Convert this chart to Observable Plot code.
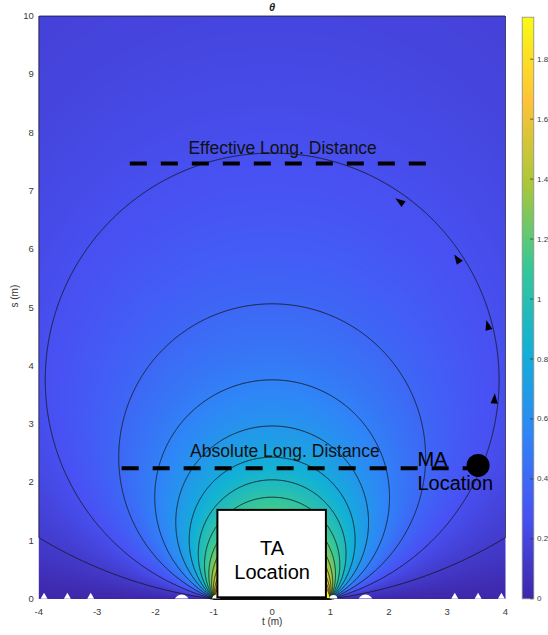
<!DOCTYPE html>
<html><head><meta charset="utf-8">
<script src="https://cdn.jsdelivr.net/npm/d3@7"></script>
<script src="https://cdn.jsdelivr.net/npm/@observablehq/plot@0.6"></script>
<style>
html,body{margin:0;padding:0;background:#fff;overflow:hidden;}
#wrap{position:relative;width:548px;height:635px;font-family:"Liberation Sans",Arial,sans-serif;}
#wrap > svg{position:absolute;top:0;}
</style></head><body><div id="wrap"></div>
<script>
// ---- data ----
const taEnds = [-1, 1];                 // TA segment end points on t (m)
const tRange = [-4, 4];
const sRange = [0, 10];
const thetaMax = 1.94;                  // colour-bar upper limit
const contourLevels = [0.13,0.26,0.39,0.52,0.65,0.78,0.91,1.04,1.17,1.30,1.43,1.56,1.69,1.82];
const xTicks = [-4,-3,-2,-1,0,1,2,3,4];
const yTicks = [0,1,2,3,4,5,6,7,8,9,10];
const cbTicks = [0,0.2,0.4,0.6,0.8,1,1.2,1.4,1.6,1.8];
const parula = ["#3e26a8","#4852f4","#2e87f7","#12b1d6","#37c897","#abc739","#fec338","#f9fb15"];

const boxT = [-0.93, 0.93];             // TA box extent
const boxS = [0.02, 1.52];
const maT = 3.53, maS = 2.29;           // MA location
const dashS  = [7.47, 2.243];           // dashed distance lines
const dashT1 = [-2.44, -2.58];
const dashT2 = [2.66, 3.45];
const labelText = ["Effective Long. Distance", "Absolute Long. Distance"];
const labelT = [0.18, 0.22];
const labelS = [7.64, 2.444];
const arrowT = [3.81, 3.70, 3.18, 2.20];
const arrowS = [3.42, 4.68, 5.82, 6.81];
const arrowDir = [4, -15, -34, -55];    // degrees clockwise from up
const gapT = [-3.91, -3.51, -3.11, 3.13, 3.53, 3.93];
const bumpT = [-1.55, 1.6];
const smallBumpT = [-0.96, 1.05];

// subtended angle of the TA segment
const theta = (t, s) => Math.atan2(s, t - taEnds[1]) - Math.atan2(s, t - taEnds[0]);

const colorOpts = {type:"linear", domain:[0, thetaMax], interpolate: d3.piecewise(d3.interpolateRgb, parula), clamp:true};
const font = "Liberation Sans, Arial, sans-serif";

// slender arrowhead symbol pointing up
const arrowHead = {
  draw(ctx, size) {
    const r = Math.sqrt(size / Math.PI);
    ctx.moveTo(0, -1.5 * r);
    ctx.lineTo(0.85 * r, 0.9 * r);
    ctx.lineTo(-0.85 * r, 0.9 * r);
    ctx.closePath();
  }
};

const main = Plot.plot({
  width:548, height:635,
  marginLeft:38.3, marginRight:43, marginTop:15.5, marginBottom:36.5,
  style:{fontFamily:font, fontSize:"9.5px", color:"#3a3a3a", background:"transparent"},
  x:{domain:tRange, ticks:xTicks, tickSize:0, tickPadding:9, label:null, tickFormat:d=>String(d)},
  y:{domain:sRange, ticks:yTicks, tickSize:0, tickPadding:5, label:null, tickFormat:d=>String(d)},
  color: colorOpts,
  marks:[
    Plot.raster({x1:tRange[0], x2:tRange[1], y1:sRange[0], y2:sRange[1], fill:theta, pixelSize:1}),
    Plot.contour({x1:tRange[0], x2:tRange[1], y1:sRange[0], y2:sRange[1], value:theta, thresholds:contourLevels,
      stroke:"#141414", fill:"none", strokeWidth:0.9, strokeOpacity:0.9, pixelSize:1}),
    Plot.dot(gapT, {x:d=>d, y:()=>0, symbol:"triangle", r:2.6, dy:-2.2, fill:"white", stroke:"none"}),
    Plot.dot(bumpT, {x:d=>d, y:()=>0, r:7.5, dy:3, fill:"white", stroke:"none", clip:true}),
    Plot.dot(smallBumpT, {x:d=>d, y:()=>0, r:4, fill:"white", stroke:"none", clip:true}),
    Plot.rect([0], {x1:()=>boxT[0], x2:()=>boxT[1], y1:()=>boxS[0], y2:()=>boxS[1], fill:"white", stroke:"black", strokeWidth:2}),
    Plot.text(["TA\nLocation"], {x:()=>0, y:()=>0.346, lineAnchor:"bottom", lineHeight:1.2, fontSize:20, fill:"black", fontFamily:font}),
    Plot.link(dashS, {x1:(d,i)=>dashT1[i], x2:(d,i)=>dashT2[i], y1:d=>d, y2:d=>d, stroke:"black", strokeWidth:4, strokeDasharray:"17,14"}),
    Plot.text(labelText, {x:(d,i)=>labelT[i], y:(d,i)=>labelS[i], lineAnchor:"bottom", fontSize:17.5, fill:"#111", fontFamily:font}),
    Plot.dot([maT], {x:d=>d, y:()=>maS, r:11.5, fill:"black", stroke:"none"}),
    Plot.text(["MA\nLocation"], {x:()=>2.49, y:()=>1.873, textAnchor:"start", lineAnchor:"bottom", lineHeight:1.215, fontSize:20, fill:"black", fontFamily:font}),
    Plot.dot(arrowT, {x:d=>d, y:(d,i)=>arrowS[i], symbol:arrowHead, rotate:(d,i)=>arrowDir[i], r:4.2, fill:"black", stroke:"none"}),
    Plot.text(["θ"], {frameAnchor:"top", dy:-5, lineAnchor:"bottom", fontSize:11, fontWeight:"bold", fontStyle:"italic", fill:"#222", fontFamily:font}),
    Plot.text(["s (m)"], {frameAnchor:"left", dx:-24, rotate:-90, fontSize:10, fill:"#333", fontFamily:font}),
    Plot.text(["t (m)"], {frameAnchor:"bottom", dy:26, fontSize:10, fill:"#333", fontFamily:font})
  ]
});
main.style.left = "0px";

const cb = Plot.plot({
  width:48, height:635,
  marginLeft:21.7, marginRight:14.7, marginTop:16.7, marginBottom:36.7,
  style:{fontFamily:font, background:"transparent"},
  x:{domain:[0,1], axis:null},
  y:{domain:[0, thetaMax], axis:null},
  color: colorOpts,
  marks:[
    Plot.raster({x1:0, x2:1, y1:0, y2:thetaMax, fill:(x,y)=>y, pixelSize:1}),
    Plot.frame({stroke:"#8a8a8a", strokeWidth:0.8}),
    Plot.ruleY(cbTicks, {x1:0.72, x2:1, stroke:"#333", strokeWidth:0.7}),
    Plot.text(cbTicks, {y:d=>d, frameAnchor:"right", dx:3.2, textAnchor:"start", text:d=>String(d), fontSize:8, fill:"#3a3a3a", fontFamily:font})
  ]
});
cb.style.left = "500px";

const wrap = document.getElementById("wrap");
wrap.appendChild(main);
wrap.appendChild(cb);
</script>
</body></html>
